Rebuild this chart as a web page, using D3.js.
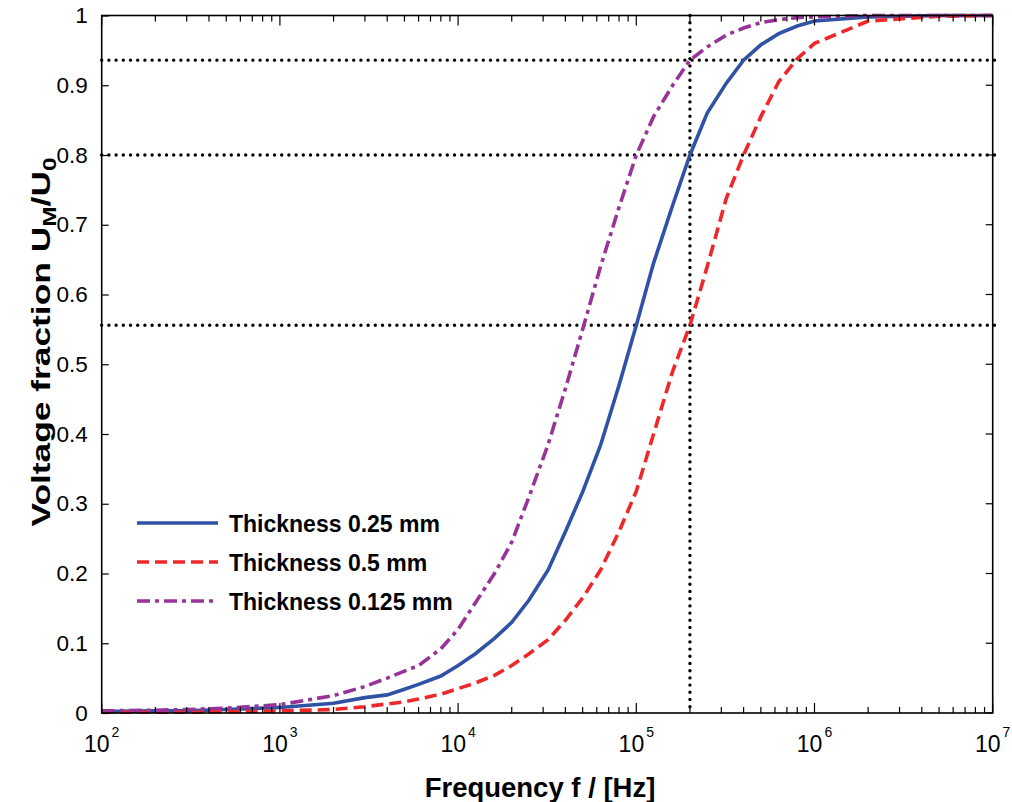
<!DOCTYPE html>
<html>
<head>
<meta charset="utf-8">
<script src="https://d3js.org/d3.v7.min.js"></script>
<style>
body { margin: 0; background: #fff; }
svg text { font-family: "Liberation Sans", Arial, Helvetica, sans-serif; fill: #000; }
.frame { fill: none; stroke: #000; stroke-width: 1.6; }
.tick-line { stroke: #000; stroke-width: 1.2; }
.guide { stroke: #000; stroke-width: 3.4; stroke-dasharray: 0,7.2; stroke-linecap: round; fill: none; }
</style>
</head>
<body>
<svg id="chart" width="1012" height="802"></svg>
<script>
// frequency points (Hz), shared by the three series
var freq = [1e2, 2e2, 3e2, 5e2, 1e3, 2e3, 3e3, 4e3, 5e3, 6e3, 8e3,
            1e4, 1.25e4, 1.6e4, 2e4, 2.5e4, 3.2e4, 4e4, 5e4, 6.3e4, 8e4,
            1e5, 1.25e5, 1.6e5, 2e5, 2.5e5, 3.2e5, 4e5, 5e5, 6.3e5, 8e5,
            1e6, 2e6, 5e6, 1e7]

// thickness 0.25 mm
var t025 = [0.002, 0.003, 0.003, 0.005, 0.008, 0.014, 0.022, 0.026, 0.034, 0.041, 0.053,
            0.068, 0.085, 0.107, 0.13, 0.162, 0.205, 0.26, 0.317, 0.384, 0.47,
            0.556, 0.645, 0.728, 0.80, 0.86, 0.903, 0.936, 0.958, 0.974, 0.985,
            0.992, 0.998, 1.0, 1.0]
// thickness 0.5 mm
var t05 = [0.001, 0.001, 0.001, 0.002, 0.003, 0.005, 0.009, 0.013, 0.016, 0.02, 0.027,
           0.035, 0.043, 0.054, 0.068, 0.085, 0.105, 0.133, 0.165, 0.205, 0.26,
           0.318, 0.40, 0.49, 0.556, 0.64, 0.738, 0.80, 0.855, 0.905, 0.938,
           0.96, 0.992, 0.999, 1.0]
// thickness 0.125 mm
var t0125 = [0.003, 0.004, 0.005, 0.007, 0.012, 0.025, 0.038, 0.05, 0.06, 0.068, 0.092,
             0.12, 0.158, 0.2, 0.245, 0.31, 0.385, 0.465, 0.55, 0.64, 0.725,
             0.80, 0.855, 0.9, 0.936, 0.955, 0.972, 0.982, 0.99, 0.994, 0.997,
             0.998, 1.0, 1.0, 1.0]

var seriesNames = ["Thickness 0.25 mm", "Thickness 0.5 mm", "Thickness 0.125 mm"]
var seriesValues = [t025, t05, t0125]

// dotted reference lines
var refY = [0.936, 0.80, 0.556]
var refX = [2e5]

var yTicks = [0, 0.1, 0.2, 0.3, 0.4, 0.5, 0.6, 0.7, 0.8, 0.9, 1]
var xDecades = [2, 3, 4, 5, 6, 7]

var svg = d3.select("#chart")
var pLeft = 101.7, pRight = 992.7, pTop = 15.5, pBottom = 713

var x = d3.scaleLog().domain([1e2, 1e7]).range([pLeft, pRight])
var y = d3.scaleLinear().domain([0, 1]).range([pBottom, pTop])

var styles = [
    {color: "rgb(48, 82, 164)", dash: null},
    {color: "rgb(238, 40, 42)", dash: "12,6"},
    {color: "rgb(152, 52, 152)", dash: "13,5,4,5"}
]

// guides
refY.forEach(function(v) {
    svg.append("line").attr("class", "guide")
        .attr("x1", pLeft).attr("x2", pRight + 2)
        .attr("y1", y(v)).attr("y2", y(v))
})
refX.forEach(function(v) {
    svg.append("line").attr("class", "guide")
        .attr("x1", x(v)).attr("x2", x(v))
        .attr("y1", pTop).attr("y2", pBottom)
})

// curves
var line = d3.line()
    .x(function(d) { return x(d[0]) })
    .y(function(d) { return y(d[1]) })

seriesValues.forEach(function(vals, i) {
    var pts = freq.map(function(f, j) { return [f, vals[j]] })
    svg.append("path")
        .attr("d", line(pts))
        .attr("fill", "none")
        .attr("stroke", styles[i].color)
        .attr("stroke-width", 3.6)
        .attr("stroke-dasharray", styles[i].dash)
})

// frame
svg.append("rect").attr("class", "frame")
    .attr("x", pLeft).attr("y", pTop)
    .attr("width", pRight - pLeft).attr("height", pBottom - pTop)

// x ticks (top and bottom, inside)
x.ticks().forEach(function(t) {
    var major = Math.abs(Math.log10(t) - Math.round(Math.log10(t))) < 1e-9
    var len = major ? 10 : 6
    svg.append("line").attr("class", "tick-line")
        .attr("x1", x(t)).attr("x2", x(t)).attr("y1", pBottom).attr("y2", pBottom - len)
    svg.append("line").attr("class", "tick-line")
        .attr("x1", x(t)).attr("x2", x(t)).attr("y1", pTop).attr("y2", pTop + len)
})

// y ticks (left and right, inside)
var yAxis = d3.axisLeft(y).tickValues(yTicks).tickSize(-7).tickPadding(14)
    .tickFormat(function(d) { return d3.format("")(d) })
var ya = svg.append("g").attr("transform", "translate(" + pLeft + ",0)").call(yAxis)
ya.select(".domain").remove()
ya.selectAll(".tick line").attr("stroke", "#000").attr("stroke-width", 1.2)
ya.selectAll(".tick text")
    .style("font-size", "22.5px")
    .style("font-family", "'Liberation Sans', Arial, Helvetica, sans-serif")
    .attr("fill", "#000")

yTicks.forEach(function(t) {
    svg.append("line").attr("class", "tick-line")
        .attr("x1", pRight).attr("x2", pRight - 7).attr("y1", y(t)).attr("y2", y(t))
})

// x tick labels 10^n
xDecades.forEach(function(p) {
    var tx = svg.append("text")
        .attr("x", x(Math.pow(10, p)))
        .attr("y", 752)
        .attr("text-anchor", "middle")
        .style("font-size", "23px")
    tx.append("tspan").text("10")
    tx.append("tspan").attr("dy", -15).attr("dx", 2).style("font-size", "14px").text(p)
})

// axis titles
svg.append("text")
    .attr("x", 540).attr("y", 797)
    .attr("text-anchor", "middle")
    .style("font-size", "27.5px").style("font-weight", "bold")
    .text("Frequency f / [Hz]")

var yt = svg.append("text")
    .attr("transform", "translate(50,342) rotate(-90) scale(1.36,1)")
    .attr("text-anchor", "middle")
    .style("font-size", "26px").style("font-weight", "bold")
yt.append("tspan").text("Voltage fraction U")
yt.append("tspan").attr("dy", 6).style("font-size", "18px").text("M")
yt.append("tspan").attr("dy", -6).text("/U")
yt.append("tspan").attr("dy", 6).style("font-size", "18px").text("0")

// legend
var legY = [523, 562, 601]
seriesNames.forEach(function(name, i) {
    svg.append("line")
        .attr("x1", 137).attr("x2", 218)
        .attr("y1", legY[i]).attr("y2", legY[i])
        .attr("stroke", styles[i].color)
        .attr("stroke-width", 3.6)
        .attr("stroke-dasharray", styles[i].dash)
    svg.append("text")
        .attr("x", 229).attr("y", legY[i] + 9)
        .style("font-size", "23px").style("font-weight", "bold")
        .text(name)
})
</script>
</body>
</html>
